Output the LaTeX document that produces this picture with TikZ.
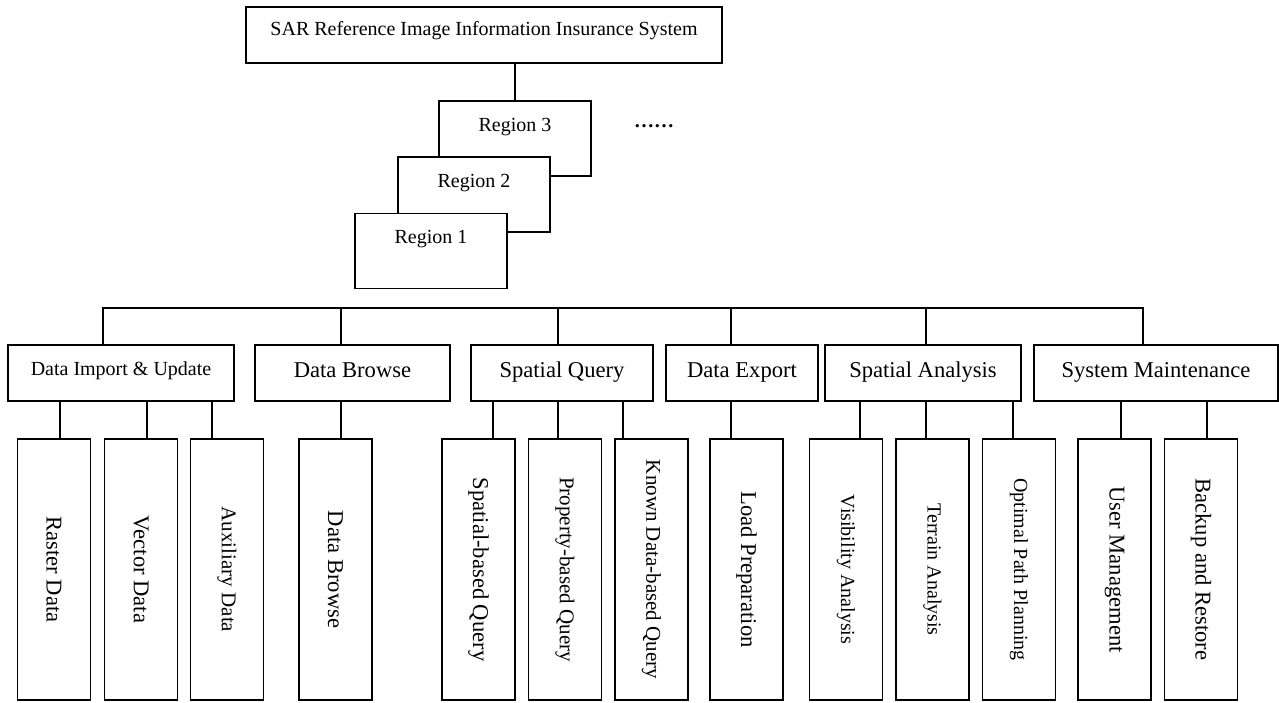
\documentclass[tikz,border=0pt]{standalone}
\usepackage{fontspec}
\setmainfont{Liberation Serif}
\usepackage{graphicx}
\begin{document}
\begin{tikzpicture}[x=1pt, y=-1pt, line width=1.6pt,
    box/.style={draw, fill=white, inner sep=0pt},
    mainbox/.style={box, minimum width=476pt, minimum height=56pt, text height=8pt, text depth=6.5pt, font=\fontsize{20}{24}\selectfont},
    regionbox/.style={box, minimum width=152pt, minimum height=75pt, text height=0pt, text depth=15pt, font=\fontsize{20}{24}\selectfont},
    modbox/.style={box, minimum height=56pt, text height=14pt, text depth=6pt, font=\fontsize{22.6}{27}\selectfont},
    leafbox/.style={box, minimum width=73pt, minimum height=261pt, font=\fontsize{22.6}{27}\selectfont}]

    % Fix the page size
    \useasboundingbox (0,0) rectangle (1279,702);

    % System box
    \node[mainbox] (sys) at (484,35) {SAR Reference Image Information Insurance System};

    % Stacked regions
    \node[regionbox] (reg3) at (515,138.5) {Region 3};
    \node[regionbox] (reg2) at (474,194.5) {Region 2};
    \node[regionbox] (reg1) at (431,251) {Region 1};
    \node[font=\fontsize{20}{24}\bfseries] (more) at (654,126) {……};
    \draw (reg3.north) -- (reg3.north |- sys.south);

    % Modules
    \node[modbox, minimum width=226pt, font=\fontsize{20}{24}\selectfont, text height=12pt, text depth=8pt] (imp) at (121,373) {Data Import \& Update};
    \node[modbox, minimum width=195pt] (browse) at (352.5,373) {Data Browse};
    \node[modbox, minimum width=182pt] (query) at (562,373) {Spatial Query};
    \node[modbox, minimum width=152pt] (export) at (742,373) {Data Export};
    \node[modbox, minimum width=196pt] (analysis) at (923,373) {Spatial Analysis};
    \node[modbox, minimum width=244pt] (maint) at (1156,373) {System Maintenance};

    % Bus line
    \coordinate (busl) at (103,308);
    \coordinate (busr) at (1143,308);
    \draw (imp.north) ++(-18,0) coordinate (t) -- (busl) -- (busr) -- (busr |- maint.north);
    \draw (browse.north) ++(-11.5,0) coordinate (t) -- (t |- busl);
    \draw (query.north) ++(-4,0) coordinate (t) -- (t |- busl);
    \draw (export.north) ++(-11,0) coordinate (t) -- (t |- busl);
    \draw (analysis.north) ++(3,0) coordinate (t) -- (t |- busl);

    % Functions
    \node[leafbox] (raster) at (54,569.5) {\rotatebox{-90}{Raster Data}};
    \node[leafbox] (vector) at (141,569.5) {\rotatebox{-90}{Vector Data}};
    \node[leafbox, font=\fontsize{21}{25}\selectfont] (aux) at (227,569.5) {\rotatebox{-90}{Auxiliary Data}};
    \node[leafbox] (dbrowse) at (335.5,569.5) {\rotatebox{-90}{Data Browse}};
    \node[leafbox] (spq) at (478.5,569.5) {\rotatebox{-90}{Spatial-based Query}};
    \node[leafbox, font=\fontsize{21}{25}\selectfont] (prq) at (565,569.5) {\rotatebox{-90}{Property-based Query}};
    \node[leafbox, font=\fontsize{21}{25}\selectfont] (kdq) at (651.5,569.5) {\rotatebox{-90}{Known Data-based Query}};
    \node[leafbox] (load) at (746.5,569.5) {\rotatebox{-90}{Load Preparation}};
    \node[leafbox, font=\fontsize{20}{24}\selectfont] (vis) at (846,569.5) {\rotatebox{-90}{Visibility Analysis}};
    \node[leafbox, font=\fontsize{20}{24}\selectfont] (terrain) at (932.5,569.5) {\rotatebox{-90}{Terrain Analysis}};
    \node[leafbox, font=\fontsize{20}{24}\selectfont] (path) at (1019,569.5) {\rotatebox{-90}{Optimal Path Planning}};
    \node[leafbox] (user) at (1114.5,569.5) {\rotatebox{-90}{User Management}};
    \node[leafbox] (backup) at (1201,569.5) {\rotatebox{-90}{Backup and Restore}};

    % Module to function links
    \draw (raster.north) ++(6,0) coordinate (t) -- (t |- imp.south);
    \draw (vector.north) ++(6,0) coordinate (t) -- (t |- imp.south);
    \draw (aux.north) ++(-15,0) coordinate (t) -- (t |- imp.south);
    \draw (dbrowse.north) ++(5.5,0) coordinate (t) -- (t |- browse.south);
    \draw (spq.north) ++(14.5,0) coordinate (t) -- (t |- query.south);
    \draw (prq.north) ++(-7,0) coordinate (t) -- (t |- query.south);
    \draw (kdq.north) ++(-28.5,0) coordinate (t) -- (t |- query.south);
    \draw (load.north) ++(-15.5,0) coordinate (t) -- (t |- export.south);
    \draw (vis.north) ++(14,0) coordinate (t) -- (t |- analysis.south);
    \draw (terrain.north) ++(-6.5,0) coordinate (t) -- (t |- analysis.south);
    \draw (path.north) ++(-6,0) coordinate (t) -- (t |- analysis.south);
    \draw (user.north) ++(6.5,0) coordinate (t) -- (t |- maint.south);
    \draw (backup.north) ++(6,0) coordinate (t) -- (t |- maint.south);
\end{tikzpicture}
\end{document}
